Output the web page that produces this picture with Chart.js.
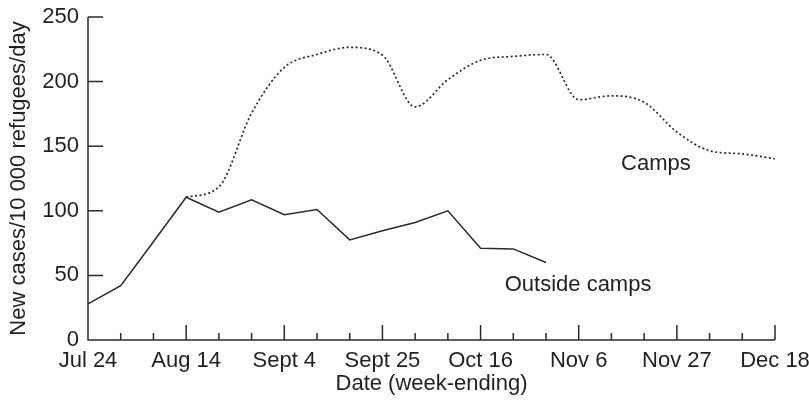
<!DOCTYPE html>
<html>
<head>
<meta charset="utf-8">
<script src="https://cdn.jsdelivr.net/npm/chart.js@4.4.1/dist/chart.umd.min.js"></script>
<style>
  html, body { margin: 0; padding: 0; background: #fff; }
  #wrap { width: 809px; height: 402px; }
</style>
</head>
<body>
<div id="wrap"><canvas id="myChart"></canvas></div>
<script>
// weeks (week-ending dates)
const weeks = ["Jul 24", "Jul 31", "Aug 7", "Aug 14", "Aug 21", "Aug 28", "Sept 4", "Sept 11",
  "Sept 18", "Sept 25", "Oct 2", "Oct 9", "Oct 16", "Oct 23", "Oct 30", "Nov 6", "Nov 13",
  "Nov 20", "Nov 27", "Dec 4", "Dec 11", "Dec 18"];
const shownWeeks = ["Jul 24", "Aug 14", "Sept 4", "Sept 25", "Oct 16", "Nov 6", "Nov 27", "Dec 18"];

// new cases / 10 000 refugees / day
const outsideCamps = [28, 42, 76, 110.5, 99, 108.5, 97, 101, 77.5, 84.5, 91, 100, 71, 70.5, 60,
  null, null, null, null, null, null, null];
const camps = [null, null, null, 110.5, 118.5, 175.5, 211, 221, 226.5, 220.5, 180.5, 201.5, 216.5,
  219.5, 221, 186, 189, 184, 161, 146.5, 144, 140.3];

const yTicks = [0, 50, 100, 150, 200, 250];

const FONT = '"Liberation Sans", Arial, sans-serif';
const FSIZE = 22;
const TEXT = '#231f20';
const INK = '#2a2a2a';

// axis lines + inward ticks + curve labels
const axisPlugin = {
  id: 'axisPlugin',
  afterDraw(chart) {
    const { ctx, chartArea, scales } = chart;
    const x = scales.x, y = scales.y;
    const left = chartArea.left, bottom = y.getPixelForValue(0);
    ctx.save();
    ctx.strokeStyle = INK;
    ctx.lineWidth = 1.5;
    ctx.beginPath();
    ctx.moveTo(left, y.getPixelForValue(250));
    ctx.lineTo(left, bottom);
    ctx.lineTo(chartArea.right, bottom);
    yTicks.forEach(v => {
      const py = y.getPixelForValue(v);
      ctx.moveTo(left, py);
      ctx.lineTo(left + 15, py);
    });
    weeks.forEach((w, i) => {
      const px = x.getPixelForValue(i);
      const len = shownWeeks.includes(w) ? 15 : 7;
      ctx.moveTo(px, bottom);
      ctx.lineTo(px, bottom - len);
    });
    ctx.stroke();

    ctx.fillStyle = TEXT;
    ctx.font = FSIZE + 'px ' + FONT;
    ctx.textAlign = 'center';
    ctx.textBaseline = 'middle';
    ctx.fillText('Camps', x.getPixelForValue(17.36), y.getPixelForValue(136));
    ctx.fillText('Outside camps', x.getPixelForValue(14.98), y.getPixelForValue(42.6));
    ctx.restore();
  }
};

const chart = new Chart(document.getElementById('myChart'), {
  type: 'line',
  data: {
    labels: weeks,
    datasets: [
      {
        label: 'Camps',
        data: camps,
        borderColor: INK,
        borderWidth: 1.7,
        borderDash: [2, 2.5],
        pointRadius: 0,
        cubicInterpolationMode: 'monotone',
        fill: false,
      },
      {
        label: 'Outside camps',
        data: outsideCamps,
        borderColor: INK,
        borderWidth: 1.5,
        pointRadius: 0,
        tension: 0,
        fill: false,
      },
    ],
  },
  options: {
    responsive: true,
    maintainAspectRatio: false,
    animation: false,
    layout: { padding: { top: 17, right: 34, left: 0, bottom: 0 } },
    plugins: {
      legend: { display: false },
      tooltip: { enabled: false },
    },
    scales: {
      x: {
        offset: false,
        grid: { display: false, drawTicks: false },
        border: { display: false },
        afterFit(scale) {
          scale.height = 62;
          scale.paddingLeft = 0;
          scale.paddingRight = 0;
        },
        ticks: {
          autoSkip: false,
          maxRotation: 0,
          padding: 8,
          color: TEXT,
          font: { family: FONT, size: FSIZE },
          callback: (v, i) => shownWeeks.includes(weeks[i]) ? weeks[i] : '',
        },
        title: {
          display: true,
          text: 'Date (week-ending)',
          color: TEXT,
          font: { family: FONT, size: FSIZE },
          padding: { top: 0, bottom: 5 },
        },
      },
      y: {
        min: 0,
        max: 250,
        grid: { display: false, drawTicks: false },
        border: { display: false },
        afterFit(scale) {
          scale.width = 88;
          scale.paddingTop = 0;
          scale.paddingBottom = 0;
        },
        afterBuildTicks(scale) { scale.ticks = yTicks.map(v => ({ value: v })); },
        ticks: {
          padding: 9,
          color: TEXT,
          font: { family: FONT, size: FSIZE },
        },
        title: {
          display: true,
          text: 'New cases/10 000 refugees/day',
          color: TEXT,
          font: { family: FONT, size: FSIZE },
          padding: { top: 6, bottom: 0 },
        },
      },
    },
  },
  plugins: [axisPlugin],
});
</script>
</body>
</html>
